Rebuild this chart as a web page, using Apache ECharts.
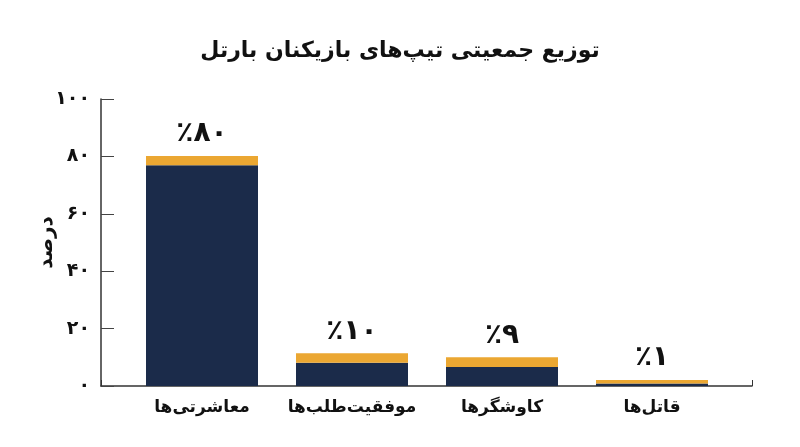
<!DOCTYPE html>
<html>
<head>
<meta charset="utf-8">
<script src="https://cdn.jsdelivr.net/npm/echarts@6/dist/echarts.min.js"></script>
<style>
html, body { margin: 0; padding: 0; background: #fff; }
#chart { width: 800px; height: 447px; }
</style>
</head>
<body>
<div id="chart"></div>
<script>
var categories = ['معاشرتی‌ها', 'موفقیت‌طلب‌ها', 'کاوشگرها', 'قاتل‌ها'];
var percents = [80, 10, 9, 1];
// navy body and orange cap heights
var bodyValues = [76.9, 8.1, 6.6, 0.9];
var capValues = [3.2, 3.3, 3.4, 1.2];
var yMin = 0, yMax = 100, yStep = 20;

var faDigits = '۰۱۲۳۴۵۶۷۸۹';
function fa(n) {
    return String(n).replace(/[0-9]/g, function (d) { return faDigits[+d]; });
}

var font = 'DejaVu Sans';
var chart = echarts.init(document.getElementById('chart'));

var option = {
    backgroundColor: '#fff',
    textStyle: { fontFamily: font },
    title: {
        text: 'توزیع جمعیتی تیپ‌های بازیکنان بارتل',
        left: 'center',
        top: 35,
        textStyle: { fontFamily: font, fontSize: 22, fontWeight: 'bold', color: '#111' }
    },
    grid: [
        { left: 101, right: 48, top: 99, bottom: 61 },
        { left: 127, right: 73, top: 99, bottom: 61 }
    ],
    xAxis: [{
        gridIndex: 0,
        type: 'value',
        min: 0,
        max: 1,
        interval: 1,
        axisLine: { show: true, lineStyle: { color: '#333', width: 1.5 } },
        axisTick: { show: true, inside: true, length: 6, lineStyle: { color: '#333' } },
        axisLabel: { show: false },
        splitLine: { show: false }
    }, {
        gridIndex: 1,
        type: 'category',
        data: categories,
        axisLine: { show: false },
        axisTick: { show: false },
        axisLabel: {
            interval: 0,
            margin: 13,
            fontFamily: font,
            fontSize: 17,
            fontWeight: 'bold',
            color: '#111'
        }
    }],
    yAxis: [{
        gridIndex: 0,
        type: 'value',
        min: yMin,
        max: yMax,
        interval: yStep,
        name: 'درصد',
        nameLocation: 'middle',
        nameGap: 44,
        nameMoveOverlap: false,
        nameTextStyle: { fontFamily: font, fontSize: 20, fontWeight: 'bold', color: '#111' },
        axisLine: { show: true, lineStyle: { color: '#333', width: 1.5 } },
        axisTick: { show: true, inside: true, length: 13, lineStyle: { color: '#444' } },
        axisLabel: {
            margin: 11,
            fontFamily: font,
            fontSize: 19,
            fontWeight: 'bold',
            color: '#111',
            formatter: function (v) { return fa(v); }
        },
        splitLine: { show: false }
    }, {
        gridIndex: 1,
        type: 'value',
        min: yMin,
        max: yMax,
        show: false
    }],
    series: [{
        type: 'bar',
        xAxisIndex: 1,
        yAxisIndex: 1,
        stack: 'total',
        barWidth: 112,
        data: bodyValues,
        itemStyle: { color: '#1b2b4a' }
    }, {
        type: 'bar',
        xAxisIndex: 1,
        yAxisIndex: 1,
        stack: 'total',
        barWidth: 112,
        data: capValues,
        itemStyle: { color: '#eba732' },
        label: {
            show: true,
            position: 'top',
            distance: 8,
            fontFamily: font,
            fontSize: 28,
            fontWeight: 'bold',
            color: '#111',
            formatter: function (p) { return '٪' + fa(percents[p.dataIndex]); }
        }
    }]
};

chart.setOption(option);
</script>
</body>
</html>
